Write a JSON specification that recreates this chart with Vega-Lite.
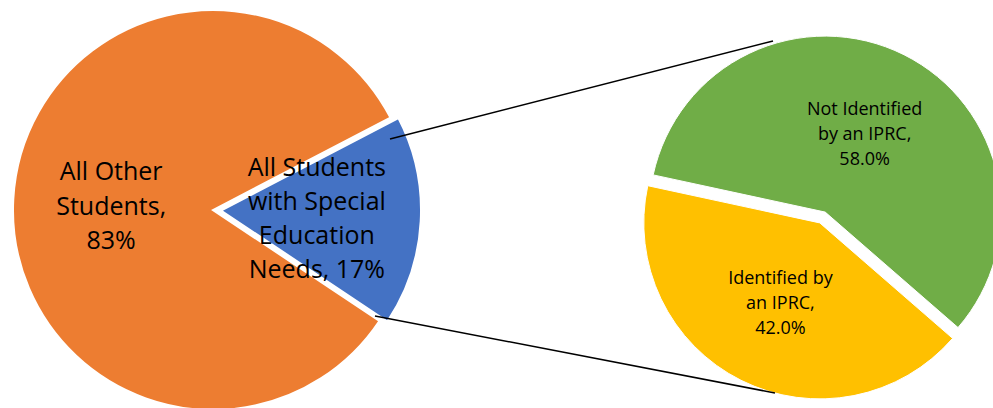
{
  "$schema": "https://vega.github.io/schema/vega-lite/v6.json",
  "width": 993,
  "height": 408,
  "padding": 0,
  "autosize": {"type": "none"},
  "background": "white",
  "config": {"view": {"stroke": null}},
  "data": {
    "values": [
      {"pie": "All Students", "group": "All Other Students", "pct": 83, "label": "All Other\nStudents,\n83%"},
      {"pie": "All Students", "group": "All Students with Special Education Needs", "pct": 17, "label": "All Students\nwith Special\nEducation\nNeeds, 17%"},
      {"pie": "Special Education Needs", "group": "Identified by an IPRC", "pct": 42, "label": "Identified by\nan IPRC,\n42.0%"},
      {"pie": "Special Education Needs", "group": "Not Identified by an IPRC", "pct": 58, "label": "Not Identified\nby an IPRC,\n58.0%"}
    ]
  },
  "encoding": {
    "x": {"field": "pie", "type": "nominal", "scale": {"type": "point", "padding": 0, "domain": ["All Students", "Special Education Needs"], "range": [213, 822.5]}, "axis": null},
    "y": {"field": "pie", "type": "nominal", "scale": {"type": "point", "padding": 0, "domain": ["All Students", "Special Education Needs"], "range": [210, 217.5]}, "axis": null},
    "color": {"field": "group", "type": "nominal", "scale": {"domain": ["All Other Students", "All Students with Special Education Needs", "Identified by an IPRC", "Not Identified by an IPRC"], "range": ["#ED7D31", "#4472C4", "#FFC000", "#70AD47"]}, "legend": null}
  },
  "layer": [
    {
      "transform": [{"filter": "datum.pie === 'All Students'"}],
      "mark": {"type": "arc", "outerRadius": 200, "stroke": "white", "strokeWidth": 2},
      "encoding": {
        "theta": {"field": "pct", "type": "quantitative", "stack": true, "scale": {"domain": [0, 100], "range": [2.159, 8.4422]}},
        "order": {"field": "group", "type": "ordinal", "sort": "ascending"},
        "opacity": {"condition": {"test": "datum.group === 'All Other Students'", "value": 1}, "value": 0}
      }
    },
    {
      "transform": [{"filter": "datum.pie === 'All Students'"}],
      "mark": {"type": "arc", "outerRadius": 200, "stroke": "white", "strokeWidth": 2, "xOffset": 8, "yOffset": 0.5},
      "encoding": {
        "theta": {"field": "pct", "type": "quantitative", "stack": true, "scale": {"domain": [0, 100], "range": [2.159, 8.4422]}},
        "order": {"field": "group", "type": "ordinal", "sort": "ascending"},
        "opacity": {"condition": {"test": "datum.group === 'All Other Students'", "value": 0}, "value": 1}
      }
    },
    {
      "transform": [{"filter": "datum.pie === 'Special Education Needs'"}],
      "mark": {"type": "arc", "outerRadius": 176, "stroke": "white", "strokeWidth": 1, "xOffset": -2.7, "yOffset": 5.4},
      "encoding": {
        "theta": {"field": "pct", "type": "quantitative", "stack": true, "scale": {"domain": [0, 100], "range": [2.2864, 8.5696]}},
        "order": {"field": "group", "type": "ordinal", "sort": "ascending"},
        "opacity": {"condition": {"test": "datum.group === 'Identified by an IPRC'", "value": 1}, "value": 0}
      }
    },
    {
      "transform": [{"filter": "datum.pie === 'Special Education Needs'"}],
      "mark": {"type": "arc", "outerRadius": 176, "stroke": "white", "strokeWidth": 1, "xOffset": 2.7, "yOffset": -5.4},
      "encoding": {
        "theta": {"field": "pct", "type": "quantitative", "stack": true, "scale": {"domain": [0, 100], "range": [2.2864, 8.5696]}},
        "order": {"field": "group", "type": "ordinal", "sort": "ascending"},
        "opacity": {"condition": {"test": "datum.group === 'Identified by an IPRC'", "value": 0}, "value": 1}
      }
    },
    {
      "transform": [{"filter": "datum.pie === 'All Students'"}],
      "mark": {"type": "text", "radius": 102, "dy": -32, "font": "Open Sans", "fontSize": 25, "lineHeight": 34.5, "lineBreak": "\n", "align": "center", "baseline": "middle", "color": "#000000"},
      "encoding": {
        "theta": {"field": "pct", "type": "quantitative", "stack": true, "scale": {"domain": [0, 100], "range": [2.159, 8.4422]}},
        "order": {"field": "group", "type": "ordinal", "sort": "ascending"},
        "text": {"field": "label", "type": "nominal"},
        "color": {"value": "#000000"},
        "opacity": {"condition": {"test": "datum.group === 'All Other Students'", "value": 1}, "value": 0}
      }
    },
    {
      "transform": [{"filter": "datum.pie === 'All Students'"}],
      "mark": {"type": "text", "radius": 104, "dy": -48, "font": "Open Sans", "fontSize": 25, "lineHeight": 34, "lineBreak": "\n", "align": "center", "baseline": "middle", "color": "#000000"},
      "encoding": {
        "theta": {"field": "pct", "type": "quantitative", "stack": true, "scale": {"domain": [0, 100], "range": [2.159, 8.4422]}},
        "order": {"field": "group", "type": "ordinal", "sort": "ascending"},
        "text": {"field": "label", "type": "nominal"},
        "color": {"value": "#000000"},
        "opacity": {"condition": {"test": "datum.group === 'All Other Students'", "value": 0}, "value": 1}
      }
    },
    {
      "transform": [{"filter": "datum.pie === 'Special Education Needs'"}],
      "mark": {"type": "text", "radius": 94, "dy": -23, "font": "Open Sans", "fontSize": 18, "lineHeight": 25, "lineBreak": "\n", "align": "center", "baseline": "middle", "color": "#000000"},
      "encoding": {
        "theta": {"field": "pct", "type": "quantitative", "stack": true, "scale": {"domain": [0, 100], "range": [2.2864, 8.5696]}},
        "order": {"field": "group", "type": "ordinal", "sort": "ascending"},
        "text": {"field": "label", "type": "nominal"},
        "color": {"value": "#000000"}
      }
    },
    {
      "data": {"values": [{"from": "All Students", "to": "Special Education Needs"}]},
      "mark": {"type": "rule", "color": "#000000", "strokeWidth": 1.5, "xOffset": 177, "yOffset": -71, "x2Offset": -49.5, "y2Offset": -176.5},
      "encoding": {
        "x": {"field": "from", "type": "nominal"},
        "x2": {"field": "to"},
        "y": {"field": "from", "type": "nominal"},
        "y2": {"field": "to"},
        "color": {"value": "#000000"}
      }
    },
    {
      "data": {"values": [{"from": "All Students", "to": "Special Education Needs"}]},
      "mark": {"type": "rule", "color": "#000000", "strokeWidth": 1.5, "xOffset": 162, "yOffset": 106, "x2Offset": -47.5, "y2Offset": 175.5},
      "encoding": {
        "x": {"field": "from", "type": "nominal"},
        "x2": {"field": "to"},
        "y": {"field": "from", "type": "nominal"},
        "y2": {"field": "to"},
        "color": {"value": "#000000"}
      }
    }
  ],
  "resolve": {"scale": {"theta": "independent"}}
}
